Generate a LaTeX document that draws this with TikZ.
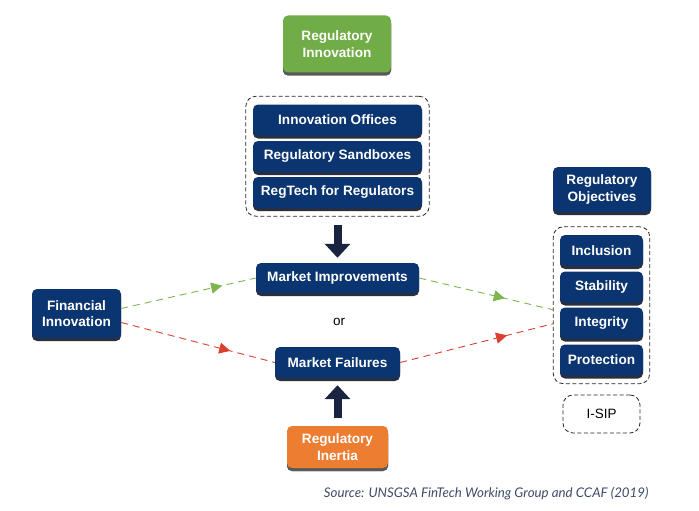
\documentclass[tikz,border=0pt]{standalone}
\usepackage{fontspec}
\setmainfont{Liberation Sans}
\newfontfamily\srcfont{Lato}
\usepackage{tikz}
\usetikzlibrary{arrows.meta,shadows,fit,decorations.markings}
\definecolor{navy}{HTML}{0B3570}
\definecolor{navyshadow}{HTML}{2A2F3E}
\definecolor{reggreen}{HTML}{70AD47}
\definecolor{regorange}{HTML}{ED7D31}
\definecolor{arrowdark}{HTML}{1A2340}
\definecolor{linegreen}{HTML}{7DB54E}
\definecolor{linered}{HTML}{D9412E}
\definecolor{srcgray}{HTML}{3E4A68}

\begin{document}
\begin{tikzpicture}[x=1pt, y=-1pt,
    box/.style={rounded corners=5pt, fill=navy, text=white, align=center, inner sep=0pt,
      font=\fontsize{13.6}{16.5}\selectfont\bfseries,
      drop shadow={shadow xshift=0pt, shadow yshift=-3pt, fill=navyshadow, opacity=1}},
    dashbox/.style={draw=black!85, line width=0.8pt, dash pattern=on 4pt off 2.5pt, rounded corners=10pt},
    bigarrow/.style={arrowdark, line width=8pt, -{Triangle[length=14pt, width=25pt]}},
    midarrow/.style={dash pattern=on 7pt off 5pt, line width=0.9pt, decoration={markings,
      mark=at position #1 with {\arrow{Triangle[length=11pt, width=11pt]}}}, postaction={decorate}}]
  \useasboundingbox (0,0) rectangle (699,511);

  \node (reginno) at (337,44) [box, fill=reggreen, minimum width=108pt, minimum height=57pt,
    drop shadow={shadow xshift=0pt, shadow yshift=-3pt, fill=black!65, opacity=1}] {Regulatory\\Innovation};

  \node (offices) at (337.5,120) [box, minimum width=169pt, minimum height=31pt] {Innovation Offices};
  \node (sandboxes) at (337.5,156.5) [box, minimum width=169pt, minimum height=31pt] {Regulatory Sandboxes};
  \node (regtech) at (337.5,192.5) [box, minimum width=169pt, minimum height=31pt] {RegTech for Regulators};
  \node (innobox) [dashbox, fit=(offices)(regtech), inner xsep=7pt, inner ysep=8pt] {};

  \node (improve) at (337.5,278) [box, minimum width=163pt, minimum height=30pt] {Market Improvements};
  \node (orlabel) at (339,322) [font=\fontsize{13.5}{15}\selectfont] {or};
  \node (failures) at (337.5,362.5) [box, minimum width=125pt, minimum height=31pt] {Market Failures};

  \node (fininno) at (76.5,313.5) [box, minimum width=89pt, minimum height=49pt] {Financial\\Innovation};

  \node (inertia) at (337.5,447) [box, fill=regorange, minimum width=101pt, minimum height=42pt,
    drop shadow={shadow xshift=0pt, shadow yshift=-3pt, fill=black!65, opacity=1}] {Regulatory\\Inertia};

  \node (objectives) at (602,189.5) [box, minimum width=98pt, minimum height=45pt] {Regulatory\\Objectives};
  \node (inclusion) at (601.5,250.5) [box, minimum width=83pt, minimum height=31pt] {Inclusion};
  \node (stability) at (601.5,287) [box, minimum width=83pt, minimum height=31pt] {Stability};
  \node (integrity) at (601.5,323) [box, minimum width=83pt, minimum height=31pt] {Integrity};
  \node (protection) at (601.5,360) [box, minimum width=83pt, minimum height=31pt] {Protection};
  \node (objbox) [dashbox, fit=(inclusion)(protection), inner xsep=6.5pt, inner ysep=8pt] {};

  \node (isip) at (601.5,414) [dashbox, minimum width=77pt, minimum height=38pt,
    font=\fontsize{13.5}{15}\selectfont] {I-SIP};

  \draw[bigarrow, shorten <=8pt, shorten >=5pt] (innobox.south) -- (improve.north);
  \draw[bigarrow, shorten <=8pt, shorten >=7pt] (inertia.north) -- (failures.south);

  \draw[midarrow=0.75, linegreen] ([yshift=5pt]fininno.east) -- (improve.west);
  \draw[midarrow=0.64, linegreen] (improve.east) -- ([yshift=-4.5pt]objbox.west);
  \draw[midarrow=0.71, linered] ([yshift=-9pt]fininno.east) -- (failures.west);
  \draw[midarrow=0.70, linered] (failures.east) -- ([yshift=-18.5pt]objbox.west);

  \node (source) at (652,494) [anchor=east, text=srcgray, font=\srcfont\itshape\fontsize{13.3}{15}\selectfont]
    {Source: UNSGSA FinTech Working Group and CCAF (2019)};
\end{tikzpicture}
\end{document}
